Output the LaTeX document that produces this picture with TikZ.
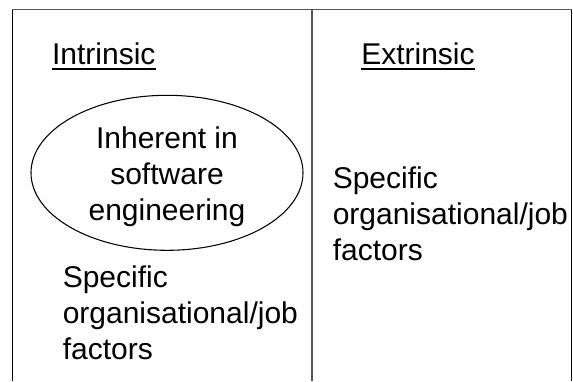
\documentclass[tikz,border=0pt]{standalone}
\usepackage{fontspec}
\setmainfont{Liberation Sans}
\usetikzlibrary{shapes.geometric}
\definecolor{rulegray}{HTML}{555555}
\tikzset{
  txt/.style={inner sep=0pt, align=left, font=\fontsize{22.5pt}{27pt}\selectfont, text=black},
  ttl/.style={txt},
  grayrule/.style={draw=rulegray, line width=1.4pt},
  blackrule/.style={draw=black, line width=0.9pt},
  ubar/.style={draw=black, line width=1.6pt},
  oval/.style={ellipse, draw=black, line width=0.8pt, inner sep=0pt}
}
\begin{document}
\begin{tikzpicture}[x=0.75pt,y=-0.75pt]
\useasboundingbox (0,0) rectangle (573,381);
% frame coordinates
\coordinate (tl) at (12.3,9.5);
\coordinate (tr) at (572,9.5);
\coordinate (lb) at (12.3,381);
\coordinate (rt) at (571.6,9.5);
\coordinate (rb) at (571.6,381);
\coordinate (dt) at (312,9.5);
\coordinate (db) at (312,381);
\draw[blackrule] (tl) -- (lb);
\draw[blackrule] (rt) -- (rb);
\draw[grayrule] (tl) -- (tr);
\draw[grayrule] (dt) -- (db);
% titles
\node[ttl, anchor=base west] (intr) at (51.8,64.5) {Intrinsic};
\node[ttl, anchor=base west] (extr) at (361,64.8) {Extrinsic};
\draw[ubar] ([yshift=-3.4pt]intr.base west) -- ([yshift=-3.4pt]intr.base east);
\draw[ubar] ([yshift=-3.2pt]extr.base west) -- ([yshift=-3.2pt]extr.base east);
% ellipse
\node[oval, minimum width=272*0.75pt, minimum height=155*0.75pt] (ell) at (167,172.8) {};
\node[txt, align=center, anchor=base] (inh) at (167,220.5) {Inherent in\\software\\engineering};
% texts
\node[txt, anchor=base west] (lspec) at (62.5,359.5) {Specific\\organisational/job\\factors};
\node[txt, anchor=base west] (rspec) at (332.5,260) {Specific\\organisational/job\\factors};
\end{tikzpicture}
\end{document}
